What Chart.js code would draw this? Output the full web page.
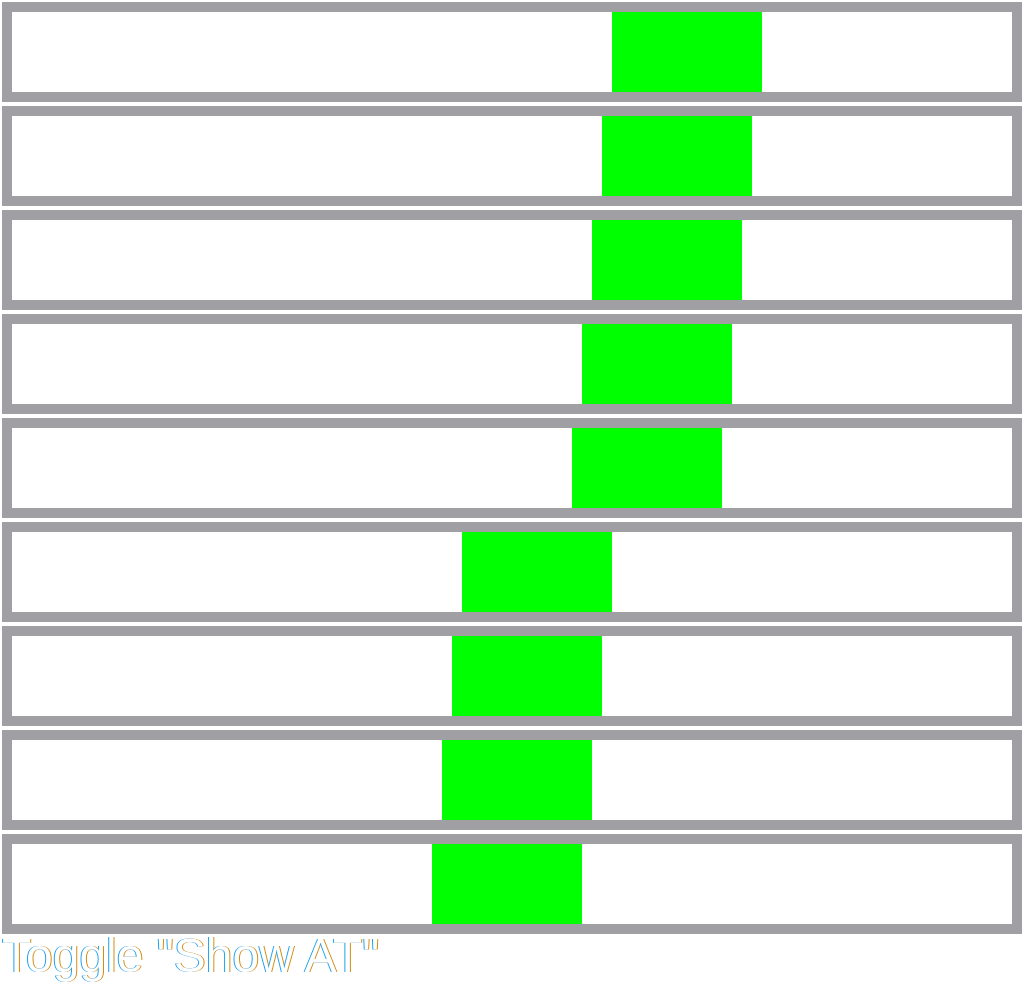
<!DOCTYPE HTML>
<html lang="en">
<head>
    <meta charset="utf-8">
    <title>Show AT</title>
    <script src="https://cdn.jsdelivr.net/npm/chart.js@4.4.0/dist/chart.umd.min.js"></script>
    <style>
        body {
            margin: 0;
            background: #ffffff;
        }

        #wrap {
            position: relative;
            width: 1024px;
            height: 986px;
        }

        #chart {
            position: absolute;
            left: 0;
            top: 0;
        }

        #toggle {
            position: absolute;
            left: 2px;
            top: 932px;
            font-family: "Liberation Sans", Arial, sans-serif;
            font-size: 48px;
            line-height: 48px;
            white-space: pre;
            color: #ffffff;
            text-shadow: -1px 0 #1aa0f0, 1px 0 #d08a10;
        }
    </style>
</head>
<body>
    <div id="wrap">
        <canvas id="chart" width="1024" height="936"></canvas>
        <div id="toggle">Toggle "Show AT"</div>
    </div>

    <script>
        // one row per track, the green window is a [start, end] range
        const rows = ['1', '2', '3', '4', '5', '6', '7', '8', '9'];
        const windowStart = [600, 590, 580, 570, 560, 450, 440, 430, 420];
        const windowEnd = [750, 740, 730, 720, 710, 600, 590, 580, 570];
        const trackRange = [-10, 1010];

        const gray = '#a09fa4';

        new Chart(document.getElementById('chart').getContext('2d'), {
            type: 'bar',
            data: {
                labels: rows,
                datasets: [{
                    label: 'window',
                    data: rows.map((r, i) => [windowStart[i], windowEnd[i]]),
                    backgroundColor: '#00ff00',
                    borderWidth: 0,
                    barThickness: 80,
                    inflateAmount: 0,
                    grouped: false,
                    order: 0
                }, {
                    label: 'track',
                    data: rows.map(() => trackRange),
                    backgroundColor: '#ffffff',
                    borderColor: gray,
                    borderWidth: 10,
                    borderSkipped: false,
                    barThickness: 100,
                    inflateAmount: 0,
                    grouped: false,
                    order: 1
                }]
            },
            options: {
                indexAxis: 'y',
                responsive: false,
                animation: false,
                devicePixelRatio: 1,
                layout: {
                    padding: { left: 2, right: 2, top: 0, bottom: 0 }
                },
                plugins: {
                    legend: { display: false },
                    tooltip: { enabled: false }
                },
                scales: {
                    x: {
                        type: 'linear',
                        display: false,
                        min: trackRange[0],
                        max: trackRange[1]
                    },
                    y: {
                        display: false,
                        offset: true
                    }
                }
            }
        });
    </script>
</body>
</html>
